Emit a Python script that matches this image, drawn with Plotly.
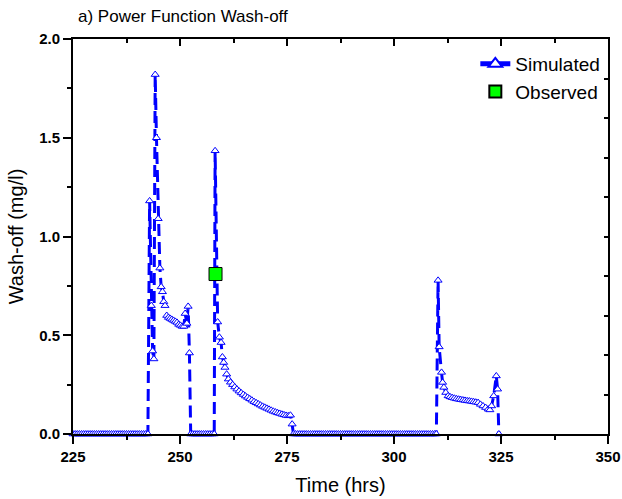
import plotly.graph_objects as go

# ---- Data ----
# Baseline before first event (zero wash-off)
seg_a_time = [225.0, 225.5, 226.0, 226.5, 227.0, 227.5, 228.0, 228.5, 229.0, 229.5,
              230.0, 230.5, 231.0, 231.5, 232.0, 232.5, 233.0, 233.5, 234.0, 234.5,
              235.0, 235.5, 236.0, 236.5, 237.0, 237.5, 238.0, 238.5, 239.0, 239.5,
              240.0, 240.5, 241.0, 241.5, 242.0, 242.5]
seg_a_val = [0.0, 0.0, 0.0, 0.0, 0.0, 0.0, 0.0, 0.0, 0.0, 0.0,
             0.0, 0.0, 0.0, 0.0, 0.0, 0.0, 0.0, 0.0, 0.0, 0.0,
             0.0, 0.0, 0.0, 0.0, 0.0, 0.0, 0.0, 0.0, 0.0, 0.0,
             0.0, 0.0, 0.0, 0.0, 0.0, 0.0]

# Event 1
ev1_time = [242.9, 243.3, 243.6, 243.9, 244.2, 244.5, 244.9, 245.3, 245.6, 245.9,
            246.2, 246.5, 246.9, 247.3, 247.7, 248.1, 248.5, 248.9, 249.3, 249.7,
            250.1, 250.5, 250.9, 251.2, 251.6, 251.9, 252.2]
ev1_val = [1.18, 0.65, 0.42, 0.38, 1.82, 1.50, 1.09, 0.84, 0.745, 0.72,
           0.67, 0.65, 0.60, 0.59, 0.585, 0.58, 0.575, 0.57, 0.565, 0.555,
           0.55, 0.545, 0.545, 0.61, 0.56, 0.646, 0.41]

# Baseline between events 1 and 2
seg_b_time = [252.5, 253.0, 253.5, 254.0, 254.5, 255.0, 255.5, 256.0, 256.5, 257.0,
              257.5, 258.0]
seg_b_val = [0.0, 0.0, 0.0, 0.0, 0.0, 0.0, 0.0, 0.0, 0.0, 0.0,
             0.0, 0.0]

# Event 2
ev2_time = [258.2, 258.8, 259.2, 259.6, 259.9, 260.2, 260.5, 260.9, 261.3, 261.8,
            262.3, 262.8, 263.3, 263.8, 264.3, 264.8, 265.3, 265.8, 266.3, 266.8,
            267.3, 267.8, 268.3, 268.8, 269.3, 269.8, 270.3, 270.8, 271.3, 271.8,
            272.3, 272.8, 273.3, 273.8, 274.3, 274.8, 275.3, 275.8, 276.2]
ev2_val = [1.434, 0.567, 0.49, 0.463, 0.39, 0.362, 0.337, 0.303, 0.278, 0.262,
           0.250, 0.238, 0.227, 0.217, 0.208, 0.200, 0.192, 0.185, 0.178, 0.171,
           0.164, 0.158, 0.152, 0.146, 0.140, 0.135, 0.130, 0.125, 0.120, 0.115,
           0.111, 0.107, 0.104, 0.100, 0.097, 0.094, 0.092, 0.095, 0.05]

# Baseline between events 2 and 3
seg_c_time = [276.5, 277.0, 277.5, 278.0, 278.5, 279.0, 279.5, 280.0, 280.5, 281.0,
              281.5, 282.0, 282.5, 283.0, 283.5, 284.0, 284.5, 285.0, 285.5, 286.0,
              286.5, 287.0, 287.5, 288.0, 288.5, 289.0, 289.5, 290.0, 290.5, 291.0,
              291.5, 292.0, 292.5, 293.0, 293.5, 294.0, 294.5, 295.0, 295.5, 296.0,
              296.5, 297.0, 297.5, 298.0, 298.5, 299.0, 299.5, 300.0, 300.5, 301.0,
              301.5, 302.0, 302.5, 303.0, 303.5, 304.0, 304.5, 305.0, 305.5, 306.0,
              306.5, 307.0, 307.5, 308.0, 308.5, 309.0, 309.5, 309.9]
seg_c_val = [0.0, 0.0, 0.0, 0.0, 0.0, 0.0, 0.0, 0.0, 0.0, 0.0,
             0.0, 0.0, 0.0, 0.0, 0.0, 0.0, 0.0, 0.0, 0.0, 0.0,
             0.0, 0.0, 0.0, 0.0, 0.0, 0.0, 0.0, 0.0, 0.0, 0.0,
             0.0, 0.0, 0.0, 0.0, 0.0, 0.0, 0.0, 0.0, 0.0, 0.0,
             0.0, 0.0, 0.0, 0.0, 0.0, 0.0, 0.0, 0.0, 0.0, 0.0,
             0.0, 0.0, 0.0, 0.0, 0.0, 0.0, 0.0, 0.0, 0.0, 0.0,
             0.0, 0.0, 0.0, 0.0, 0.0, 0.0, 0.0, 0.0]

# Event 3
ev3_time = [310.3, 310.55, 311.1, 311.35, 311.65, 312.1, 312.65, 313.1, 313.6, 314.1,
            314.6, 315.1, 315.6, 316.1, 316.6, 317.1, 317.6, 318.1, 318.6, 319.1,
            319.65, 320.2, 320.8, 321.4, 322.0, 322.4, 322.8, 323.3, 323.9, 324.2,
            324.5]
ev3_val = [0.778, 0.441, 0.312, 0.261, 0.236, 0.21, 0.193, 0.188, 0.184, 0.181,
           0.178, 0.176, 0.174, 0.172, 0.170, 0.168, 0.167, 0.165, 0.163, 0.161,
           0.159, 0.150, 0.142, 0.134, 0.126, 0.122, 0.142, 0.193, 0.294, 0.227,
           0.0]

obs_time = [258.3]
obs_val = [0.81]

x_range = [225, 350]
y_range = [0, 2.0]
x_tickvals = [225, 250, 275, 300, 325, 350]
y_tickvals = [0.0, 0.5, 1.0, 1.5, 2.0]
y_ticktext = ["0.0", "0.5", "1.0", "1.5", "2.0"]

sim_time = seg_a_time + ev1_time + seg_b_time + ev2_time + seg_c_time + ev3_time
sim_val = seg_a_val + ev1_val + seg_b_val + ev2_val + seg_c_val + ev3_val

FONT = "Liberation Sans, Arial, sans-serif"
BLUE = "#0000ff"

fig = go.Figure()
fig.add_trace(go.Scatter(
    x=sim_time, y=sim_val, mode="lines+markers", name="Simulated",
    line=dict(color=BLUE, width=3, dash="12px,6px"),
    marker=dict(symbol="triangle-up", size=7, color="white",
                line=dict(color=BLUE, width=1)),
    cliponaxis=False,
))
fig.add_trace(go.Scatter(
    x=obs_time, y=obs_val, mode="markers", name="Observed",
    marker=dict(symbol="square", size=13, color="#00ff00",
                line=dict(color="black", width=1)),
))
# dummy trace for the mirrored (top/right) axes
fig.add_trace(go.Scatter(x=[None], y=[None], xaxis="x2", yaxis="y2",
                         showlegend=False, hoverinfo="skip"))

axis_common = dict(showgrid=False, zeroline=False, showline=True,
                   linecolor="black", linewidth=2, tickcolor="black",
                   tickwidth=1.5, automargin=False)

fig.update_layout(
    width=622, height=499,
    margin=dict(l=73, r=14, t=39, b=65),
    paper_bgcolor="white", plot_bgcolor="white",
    font=dict(family=FONT, color="black"),
    showlegend=True,
    legend=dict(x=0.995, xanchor="right", y=0.985, yanchor="top",
                bgcolor="rgba(0,0,0,0)", font=dict(size=19, family=FONT),
                tracegroupgap=0, itemsizing="constant"),
    xaxis=dict(range=x_range, tickvals=x_tickvals, ticks="outside", ticklen=8,
               minor=dict(dtick=12.5, ticks="outside", ticklen=4,
                          tickcolor="black", tickwidth=1.5),
               tickfont=dict(size=15, family=FONT, weight="bold"),
               title=dict(text="Time (hrs)", font=dict(size=20, family=FONT),
                          standoff=14),
               **axis_common),
    yaxis=dict(range=y_range, tickvals=y_tickvals, ticktext=y_ticktext,
               ticks="outside", ticklen=8,
               minor=dict(dtick=0.25, ticks="outside", ticklen=4,
                          tickcolor="black", tickwidth=1.5),
               tickfont=dict(size=15, family=FONT, weight="bold"),
               title=dict(text="Wash-off (mg/l)", font=dict(size=20, family=FONT),
                          standoff=10),
               **axis_common),
    xaxis2=dict(range=x_range, overlaying="x", side="top", anchor="y2",
                tickvals=x_tickvals, ticks="inside", ticklen=7,
                showticklabels=False,
                minor=dict(dtick=12.5, ticks="inside", ticklen=4,
                           tickcolor="black", tickwidth=1.5),
                **axis_common),
    yaxis2=dict(range=y_range, overlaying="y", side="right", anchor="x2",
                dtick=0.2, ticks="inside", ticklen=4, showticklabels=False,
                **axis_common),
    annotations=[dict(text="a) Power Function Wash-off", xref="paper", yref="paper",
                      x=0.005, y=1.0, yshift=23, xanchor="left", yanchor="middle",
                      showarrow=False, font=dict(size=17, family=FONT))],
)

fig.write_html(
    "out.html",
    config={"displayModeBar": False},
    post_script="document.body.style.margin='0';document.body.style.overflow='hidden';",
)
